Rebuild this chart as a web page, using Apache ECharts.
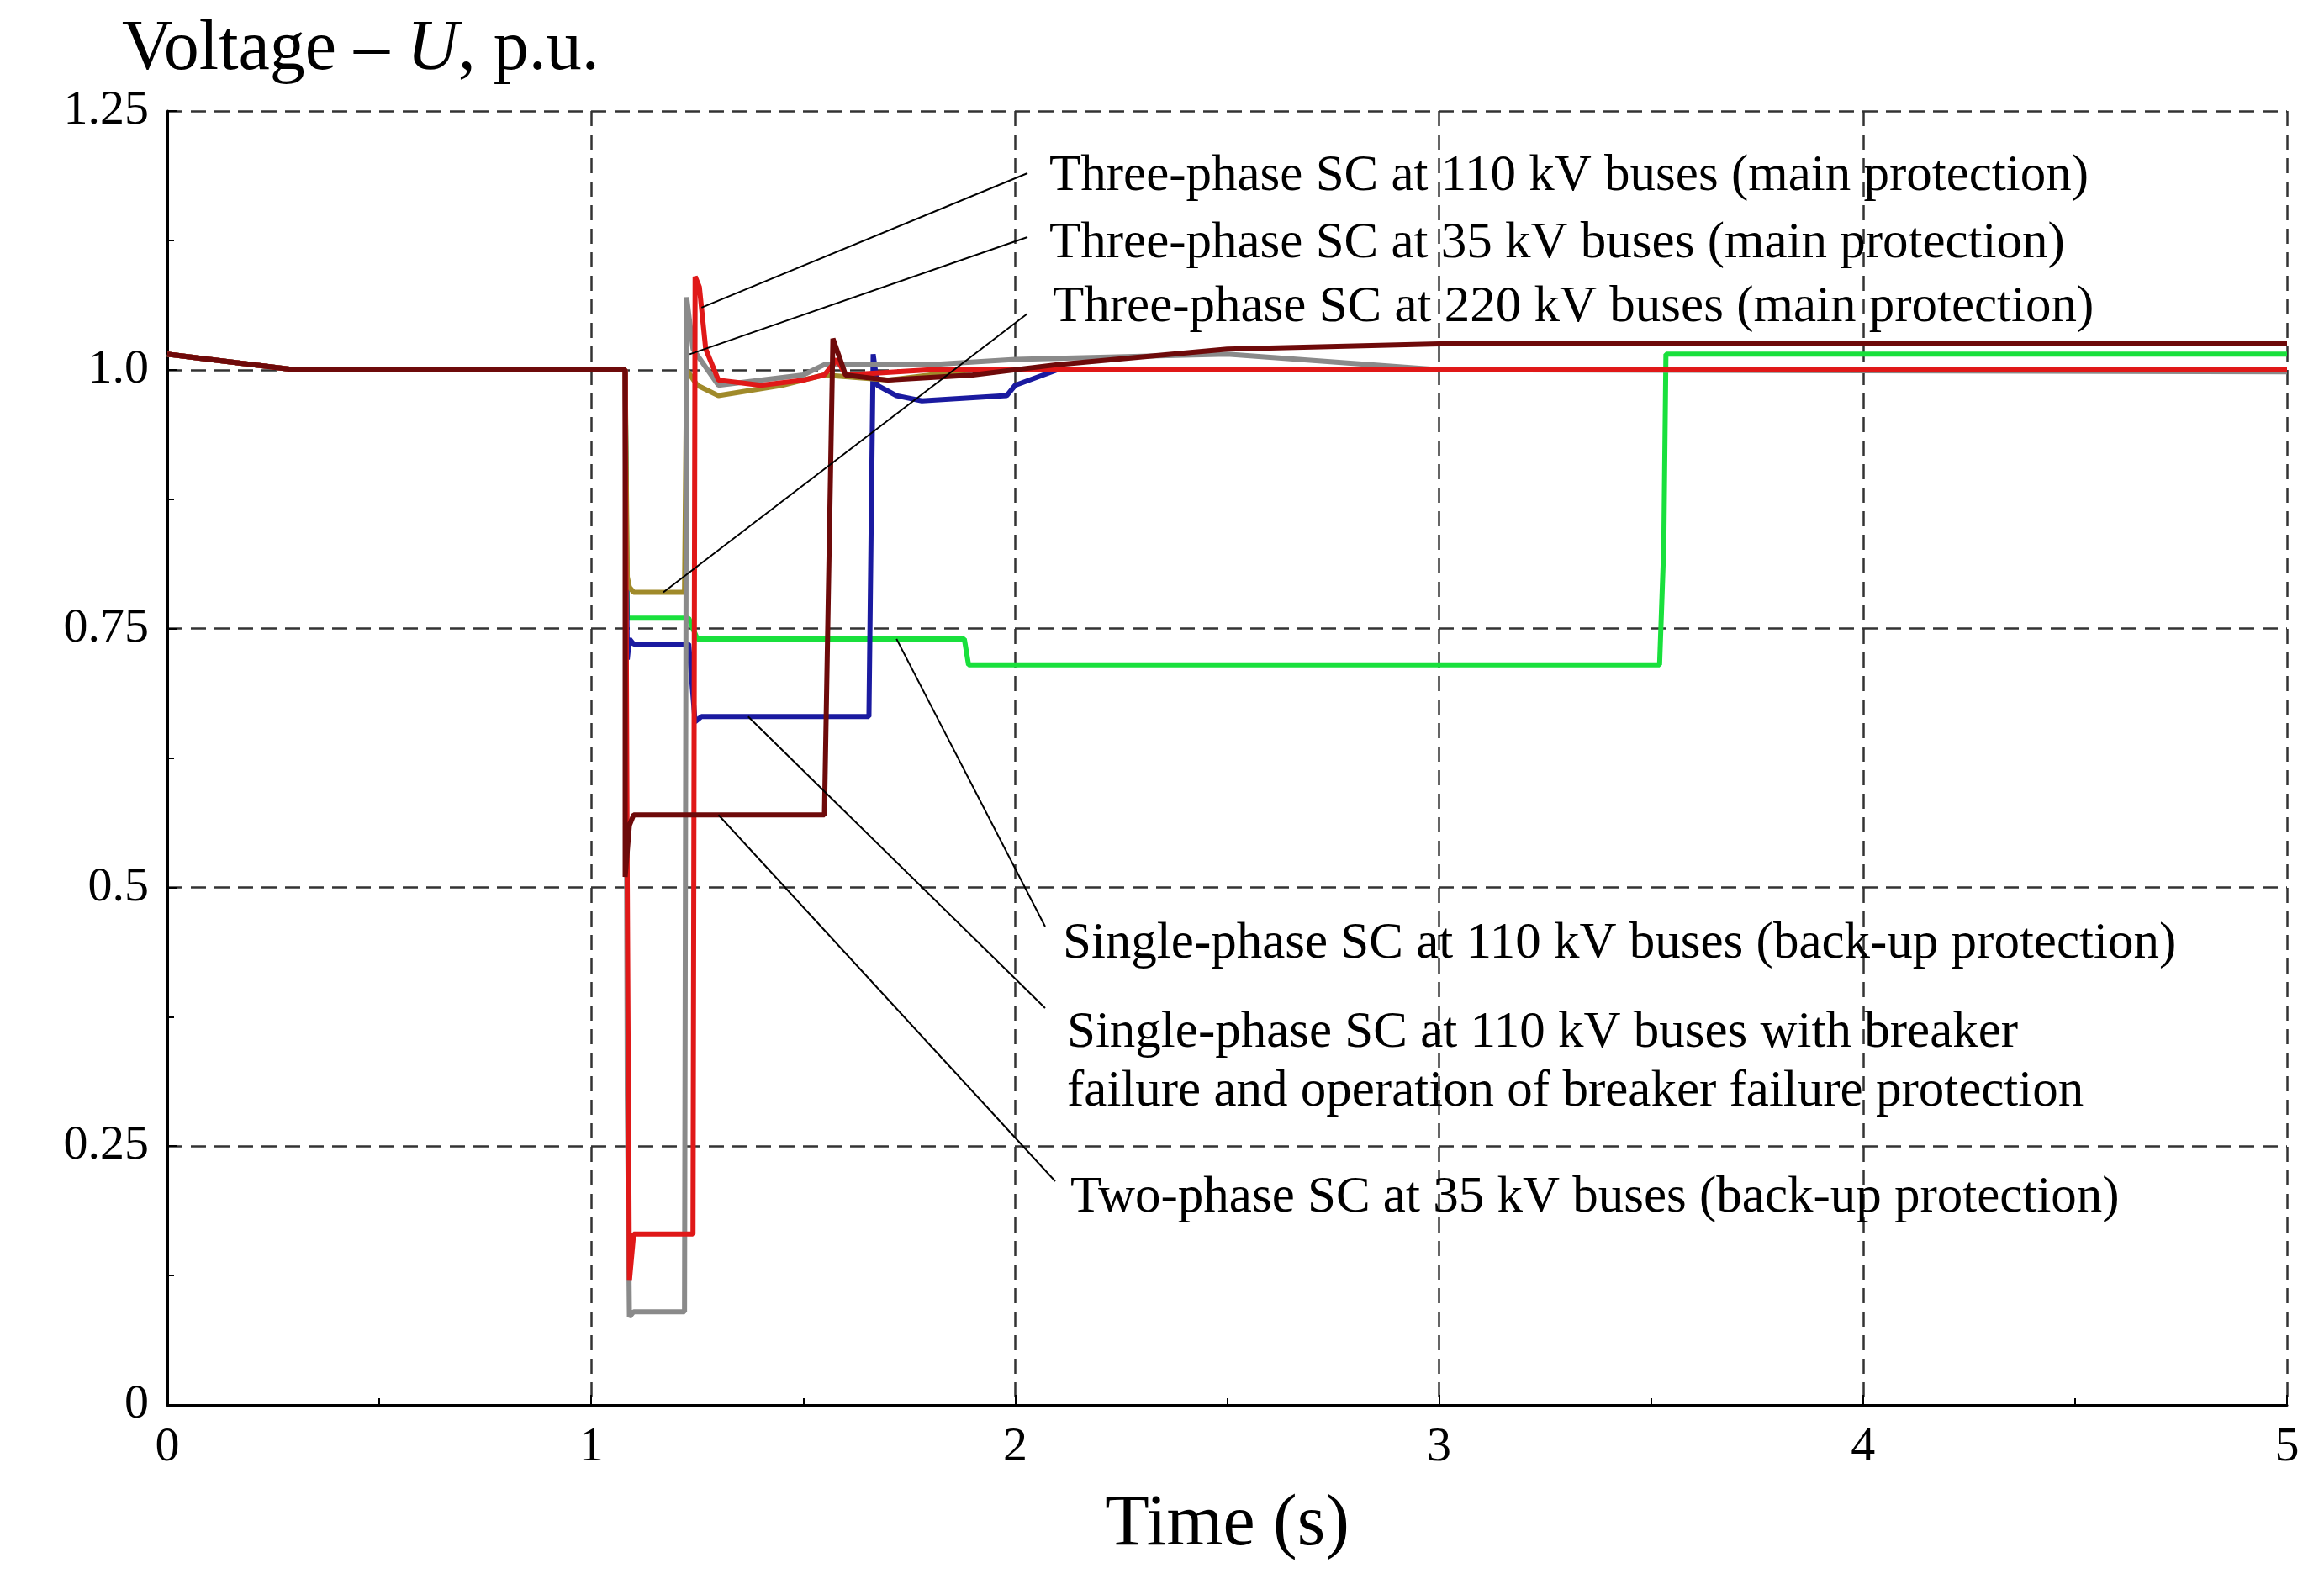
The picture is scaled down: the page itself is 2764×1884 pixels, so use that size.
<!DOCTYPE html>
<html><head><meta charset="utf-8">
<script src="https://cdn.jsdelivr.net/npm/echarts@6/dist/echarts.min.js"></script>
<style>html,body{margin:0;padding:0;background:#fff}#c{width:2764px;height:1884px}</style>
</head><body><div id="c"></div>
<script>
const xTicks=[0,1,2,3,4,5];
const yTickLabels={'0':'0','0.25':'0.25','0.5':'0.5','0.75':'0.75','1':'1.0','1.25':'1.25'};
const pre=[[0,1.015],[0.1,1.01],[0.3,1.0],[1.08,1.0]];
const red3ph110=pre.concat([[1.085,0.5],[1.09,0.12],[1.1,0.165],[1.24,0.165],[1.245,1.09],[1.255,1.08],[1.27,1.02],[1.3,0.99],[1.4,0.985],[1.5,0.99],[1.55,0.995],[1.58,1.01],[1.6,0.995],[1.8,1.0],[2.0,1.0],[5,1.0]]);
const gray3ph35=pre.concat([[1.085,0.3],[1.09,0.085],[1.1,0.09],[1.22,0.09],[1.225,1.07],[1.24,1.02],[1.3,0.985],[1.5,0.995],[1.55,1.005],[1.8,1.005],[2.0,1.01],[2.5,1.015],[3,1.0],[5,0.998]]);
const olive3ph220=pre.concat([[1.085,0.8],[1.09,0.79],[1.1,0.785],[1.22,0.785],[1.225,1.0],[1.25,0.985],[1.3,0.975],[1.45,0.985],[1.55,0.995],[1.7,0.99],[1.9,1.0],[2.0,1.0],[5,1.0]]);
const green1ph110=pre.concat([[1.085,0.76],[1.1,0.76],[1.23,0.76],[1.25,0.74],[1.88,0.74],[1.89,0.715],[3.52,0.715],[3.53,0.83],[3.535,1.015],[5,1.015]]);
const blue1phBF=pre.concat([[1.085,0.72],[1.09,0.74],[1.1,0.735],[1.23,0.735],[1.245,0.66],[1.26,0.665],[1.655,0.665],[1.665,1.015],[1.675,0.985],[1.72,0.975],[1.78,0.97],[1.98,0.975],[2.0,0.985],[2.1,1.0],[5,1.0]]);
const dred2ph35=pre.concat([[1.08,0.51],[1.09,0.56],[1.1,0.57],[1.55,0.57],[1.57,1.03],[1.6,0.995],[1.7,0.99],[1.9,0.995],[2.1,1.005],[2.5,1.02],[3,1.025],[5,1.025]]);
const seriesDefs=[
 ['Single-phase SC at 110 kV buses (back-up protection)',green1ph110,'#19e03c'],
 ['Single-phase SC at 110 kV buses with breaker failure',blue1phBF,'#1a1aa0'],
 ['Three-phase SC at 220 kV buses (main protection)',olive3ph220,'#a08a2a'],
 ['Three-phase SC at 35 kV buses (main protection)',gray3ph35,'#8a8a8a'],
 ['Three-phase SC at 110 kV buses (main protection)',red3ph110,'#e01818'],
 ['Two-phase SC at 35 kV buses (back-up protection)',dred2ph35,'#6e0a0a'],
];
const labels=[
 {lines:['Three-phase SC at 110 kV buses (main protection)'],pos:[1248,210],anchor:[1.26,1.06],from:[1222,206]},
 {lines:['Three-phase SC at 35 kV buses (main protection)'],pos:[1248,290],anchor:[1.232,1.015],from:[1222,282]},
 {lines:['Three-phase SC at 220 kV buses (main protection)'],pos:[1252,366],anchor:[1.17,0.785],from:[1222,373]},
 {lines:['Single-phase SC at 110 kV buses (back-up protection)'],pos:[1264,1123],anchor:[1.72,0.74],from:[1243,1102]},
 {lines:['Single-phase SC at 110 kV buses with breaker','failure and operation of breaker failure protection'],pos:[1269,1229],anchor:[1.37,0.665],from:[1243,1199]},
 {lines:['Two-phase SC at 35 kV buses (back-up protection)'],pos:[1273,1425],anchor:[1.3,0.57],from:[1255,1405]},
];
const F='"Liberation Serif","DejaVu Serif",serif';
const chart=echarts.init(document.getElementById('c'));
chart.setOption({
 animation:false,backgroundColor:'#fff',
 grid:{left:199,right:44,top:132,bottom:213},
 xAxis:{type:'value',min:0,max:5,interval:1,
  axisLine:{lineStyle:{color:'#000',width:3}},
  axisTick:{inside:true,length:12,lineStyle:{color:'#000',width:2}},
  minorTick:{show:true,splitNumber:2,length:8,lineStyle:{color:'#000',width:2}},
  axisLabel:{fontFamily:F,fontSize:58,color:'#000',margin:22},
  splitLine:{show:true,lineStyle:{type:[18,10],color:'#333',width:2.5}},
  name:'Time (s)',nameLocation:'middle',nameGap:100,nameTextStyle:{fontFamily:F,fontSize:86,color:'#000'}},
 yAxis:{type:'value',min:0,max:1.25,interval:0.25,
  axisLine:{show:true,lineStyle:{color:'#000',width:3}},
  axisTick:{show:true,inside:true,length:12,lineStyle:{color:'#000',width:2}},
  minorTick:{show:true,splitNumber:2,length:8,lineStyle:{color:'#000',width:2}},
  axisLabel:{fontFamily:F,fontSize:58,color:'#000',margin:22,formatter:v=>yTickLabels[String(+v.toFixed(2))]??''},
  splitLine:{show:true,lineStyle:{type:[18,10],color:'#333',width:2.5}}},
 series:seriesDefs.map(([n,d,c])=>({name:n,type:'line',data:d,showSymbol:false,lineStyle:{color:c,width:6},itemStyle:{color:c},z:3}))
});
const g=[{type:'text',left:145,top:18,style:{text:'Voltage – {i|U}, p.u.',fontFamily:F,fontSize:84,fill:'#000',rich:{i:{fontFamily:F,fontSize:84,fontStyle:'italic'}}}}];
labels.forEach(l=>{
 const p=chart.convertToPixel({gridIndex:0},l.anchor);
 g.push({type:'line',shape:{x1:l.from[0],y1:l.from[1],x2:p[0],y2:p[1]},style:{stroke:'#000',lineWidth:2},z:10});
 l.lines.forEach((t,i)=>g.push({type:'text',x:l.pos[0],y:l.pos[1]+i*70,style:{text:t,fontFamily:F,fontSize:61,fill:'#000',textVerticalAlign:'middle'},z:10}));
});
chart.setOption({graphic:g});
</script></body></html>
